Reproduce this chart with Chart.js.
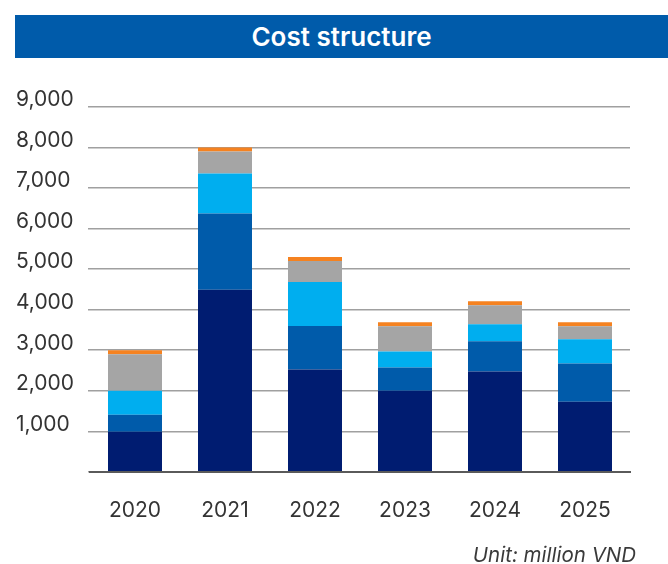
<!DOCTYPE html>
<html>
<head>
<meta charset="utf-8">
<script src="https://cdn.jsdelivr.net/npm/chart.js@4"></script>
<style>
  body { margin: 0; background: #fff; font-family: Inter, "Noto Sans", sans-serif; }
  #wrap { position: relative; width: 668px; height: 564px; }
  #title {
    position: absolute; left: 15px; top: 15px; width: 653px; height: 43px;
    background: #005baa; color: #fff; font-weight: 600; font-size: 26px;
    line-height: 43px; text-align: center;
  }
  #chart-box { position: absolute; left: 0; top: 0; width: 668px; height: 564px; }
  #unit {
    position: absolute; right: 32px; top: 542px; font-style: italic;
    font-size: 20.5px; color: #3a3a3a;
  }
</style>
</head>
<body>
<div id="wrap">
  <div id="chart-box"><canvas id="costChart"></canvas></div>
  <div id="title">Cost structure</div>
  <div id="unit">Unit: million VND</div>
</div>
<script>
const years = ["2020", "2021", "2022", "2023", "2024", "2025"];
const yTicks = [0, 1000, 2000, 3000, 4000, 5000, 6000, 7000, 8000, 9000];

// stacked parts, bottom to top (million VND)
const part1 = [990, 4490, 2525, 2000, 2475, 1730];
const part2 = [420, 1880, 1075, 575, 745, 940];
const part3 = [590, 990, 1080, 395, 420, 600];
const part4 = [900, 540, 520, 620, 470, 320];
const part5 = [100, 100, 100, 100, 100, 100];

const colors = ["#001c71", "#005baa", "#00aeef", "#a5a5a5", "#f58220"];
const parts = [part1, part2, part3, part4, part5];

const ctx = document.getElementById("costChart");

new Chart(ctx, {
  type: "bar",
  data: {
    labels: years,
    datasets: parts.map((values, i) => ({
      label: `Part ${i + 1}`,
      data: values,
      backgroundColor: colors[i],
      barPercentage: 0.6,
      categoryPercentage: 1,
    })),
  },
  options: {
    responsive: true,
    maintainAspectRatio: false,
    animation: false,
    layout: {
      padding: { left: 16, right: 38, top: 107, bottom: 23 },
    },
    plugins: {
      legend: { display: false },
      tooltip: { enabled: false },
    },
    scales: {
      x: {
        stacked: true,
        grid: { display: false },
        border: { color: "#5a5a5a", width: 2 },
        ticks: {
          color: "#333",
          font: { family: "Inter", size: 21 },
          padding: 18,
        },
      },
      y: {
        stacked: true,
        min: yTicks[0],
        max: yTicks[yTicks.length - 1],
        afterBuildTicks: (scale) => {
          scale.ticks = yTicks.map((v) => ({ value: v }));
        },
        afterFit: (scale) => {
          scale.width = 74;
        },
        border: { display: false },
        grid: { color: "#a0a0a0", lineWidth: 1.5, tickLength: 2 },
        ticks: {
          color: "#333",
          font: { family: "Inter", size: 21 },
          crossAlign: "far",
          labelOffset: -7,
          callback: (value) => (value === 0 ? "" : value.toLocaleString("en-US")),
        },
      },
    },
  },
});
</script>
</body>
</html>
